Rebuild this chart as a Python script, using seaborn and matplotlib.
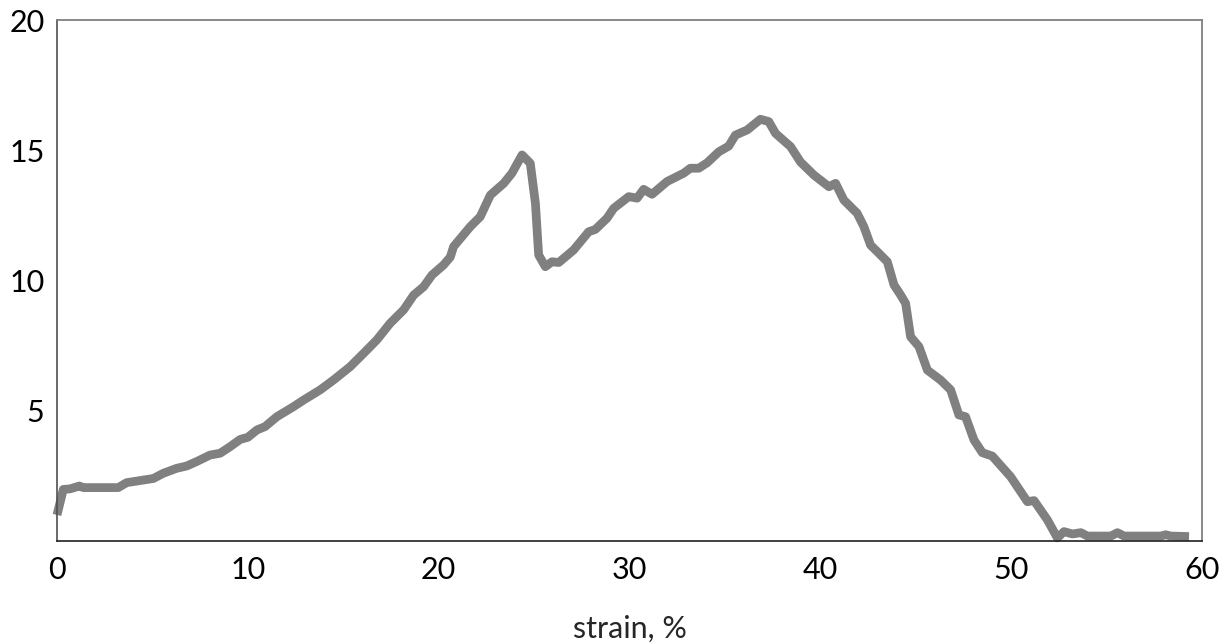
import numpy as np
import pandas as pd
import matplotlib
matplotlib.use("Agg")
import matplotlib.pyplot as plt
import seaborn as sns

# curva (deformação %, tensão)
strain = [0.0, 0.33, 0.68, 1.17, 1.38, 3.21, 3.65, 5.05, 5.57, 6.27, 6.8, 7.32,
          8.02, 8.55, 9.07, 9.6, 10.0, 10.47, 10.9, 11.52, 12.4, 12.92, 13.79,
          14.49, 15.36, 16.06, 16.76, 17.46, 18.16, 18.69, 19.21, 19.65, 20.26,
          20.61, 20.78, 21.66, 22.18, 22.71, 23.41, 23.84, 24.37, 24.8, 25.07,
          25.24, 25.59, 25.94, 26.29, 27.07, 27.86, 28.21, 28.82, 29.17, 29.96,
          30.4, 30.74, 31.18, 31.97, 32.84, 33.19, 33.63, 34.07, 34.68, 35.2,
          35.55, 36.17, 36.86, 37.3, 37.65, 38.44, 38.96, 39.66, 40.45, 40.8,
          41.23, 41.93, 42.28, 42.63, 42.98, 43.51, 43.86, 44.21, 44.47, 44.73,
          45.17, 45.61, 46.3, 46.83, 47.26, 47.61, 48.05, 48.49, 49.01, 49.97,
          50.85, 51.2, 51.9, 52.42, 52.77, 53.21, 53.65, 54.0, 55.22, 55.57,
          55.92, 57.84, 58.1, 58.36, 59.32]
stress = [1.0, 1.98, 2.0, 2.11, 2.05, 2.05, 2.24, 2.4, 2.6, 2.79, 2.88, 3.05,
          3.3, 3.37, 3.62, 3.9, 3.98, 4.26, 4.39, 4.77, 5.16, 5.41, 5.8,
          6.18, 6.69, 7.2, 7.72, 8.36, 8.87, 9.44, 9.76, 10.21, 10.6,
          10.9, 11.3, 12.07, 12.45, 13.28, 13.73, 14.12, 14.82, 14.5, 12.96,
          10.98, 10.53, 10.72, 10.69, 11.17, 11.87, 11.96, 12.39, 12.77, 13.22,
          13.16, 13.5, 13.31, 13.8, 14.12, 14.31, 14.31, 14.52, 14.94, 15.16,
          15.58, 15.78, 16.19, 16.1, 15.65, 15.14, 14.55, 14.05, 13.6, 13.73,
          13.09, 12.58, 12.07, 11.36, 11.11, 10.72, 9.83, 9.44, 9.12, 7.84,
          7.46, 6.56, 6.18, 5.8, 4.84, 4.77, 3.88, 3.39, 3.26, 2.47,
          1.51, 1.55, 0.81, 0.12, 0.36, 0.27, 0.32, 0.19, 0.19, 0.32,
          0.19, 0.19, 0.24, 0.19, 0.17]

df = pd.DataFrame({"strain": strain, "stress": stress})

sns.set_style("white")
plt.rcParams["font.family"] = ["Lato", "DejaVu Sans"]

fig = plt.figure(figsize=(12.32, 6.44), dpi=100)
ax = fig.add_axes([57 / 1232, 103 / 644, 1145 / 1232, 521 / 644])

sns.lineplot(data=df, x="strain", y="stress", ax=ax, color="#808080",
             linewidth=6.3, sort=False, clip_on=False,
             solid_joinstyle="round", solid_capstyle="butt")

ax.set_xlim(0, 60)
ax.set_ylim(0, 20)
ax.set_xticks(range(0, 61, 10))
ax.set_xticks(range(5, 60, 10), minor=True)
ax.set_yticks([5, 10, 15, 20])
ax.tick_params(axis="both", which="both", direction="in", length=5,
               width=1, color="#808080", labelsize=22, labelcolor="black")
ax.tick_params(axis="x", pad=11)
ax.tick_params(axis="y", pad=9)

ax.set_xlabel("strain, %", fontsize=22, labelpad=22)
ax.set_ylabel("")

for side in ["top", "right"]:
    ax.spines[side].set_visible(True)
    ax.spines[side].set_color("#808080")
    ax.spines[side].set_linewidth(1.3)
ax.spines["left"].set_color("#505050")
ax.spines["left"].set_linewidth(1.2)
ax.spines["bottom"].set_color("#202020")
ax.spines["bottom"].set_linewidth(1.2)

fig.savefig("out.png", dpi=100)
